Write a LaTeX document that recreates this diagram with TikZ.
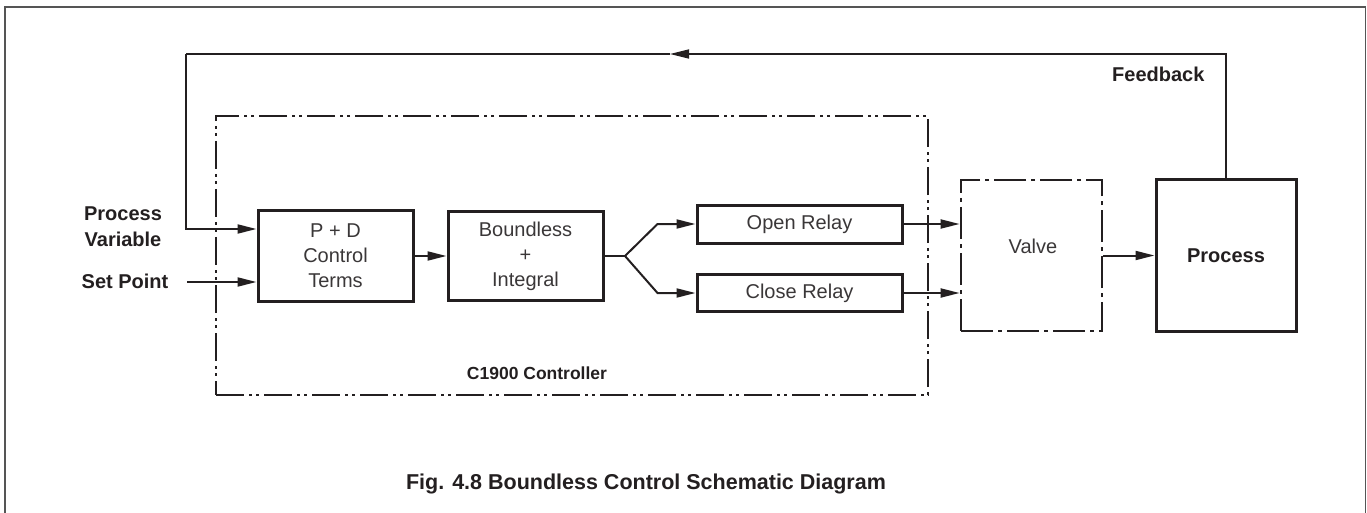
\documentclass[tikz,border=0pt]{standalone}
\usepackage{fontspec}
\setmainfont{Liberation Sans}
\usetikzlibrary{arrows.meta}
\definecolor{ink}{HTML}{231F20}
\definecolor{lightink}{HTML}{3A3738}
\definecolor{framegray}{HTML}{555555}
\begin{document}
\begin{tikzpicture}[x=1pt,y=-1pt,
  box/.style={draw=ink,line width=3pt,rectangle,inner sep=0pt,align=center,
    font=\fontsize{20}{25}\selectfont,text=lightink},
  conn/.style={draw=ink,line width=2pt},
  arr/.style={conn,-{Triangle[length=19pt,width=9pt]}},
  lbl/.style={font=\bfseries\fontsize{20}{26}\selectfont,text=ink,align=center},
  ctrlframe/.style={draw=ink,line width=2.8pt,rectangle,inner sep=0pt,
    dash pattern=on 28pt off 5pt on 3pt off 4pt on 3pt off 5pt},
  valveframe/.style={draw=ink,line width=2.8pt,rectangle,inner sep=0pt,
    dash pattern=on 32pt off 5pt on 4pt off 5pt}]
\useasboundingbox (0,0) rectangle (1367,513);
% outer frame
\draw[draw=framegray,line width=1.3pt] (5,520) -- (5,7) -- (1365.5,7) -- (1365.5,520);
% controller frame
\node[ctrlframe,minimum width=712pt,minimum height=279pt] (ctrl) at (572,255.5) {};
\node[font=\bfseries\fontsize{17.5}{21}\selectfont,text=ink] (ctrllbl) at (537,373) {C1900 Controller};
% boxes
\node[box,minimum width=155pt,minimum height=91pt] (pd) at (335.5,256) {P + D\\Control\\Terms};
\node[box,minimum width=155pt,minimum height=89pt] (bi) at (525.5,256) {Boundless\\+\\Integral};
\node[box,minimum width=205pt,minimum height=38pt] (open) at (799.5,224) {Open Relay};
\node[box,minimum width=205pt,minimum height=37pt] (close) at (799.5,293) {Close Relay};
\node[valveframe,minimum width=141pt,minimum height=151pt] (valve) at (1031.5,255.5) {};
\node[font=\fontsize{20}{25}\selectfont,text=lightink] (valvetxt) at (1033,246) {Valve};
\node[box,font=\bfseries\fontsize{20}{25}\selectfont,text=ink,minimum width=140pt,minimum height=151pt] (proc) at (1226,255.5) {Process};
% labels
\node[lbl] (pv) at (123,227) {Process\\Variable};
\node[lbl] (sp) at (125,281) {Set Point};
\node[lbl,anchor=east] (fbl) at (1208,74) {Feedback};
\node[font=\bfseries\fontsize{21.5}{26}\selectfont,text=ink] (cap) at (646,484) {Fig. 4.8 Boundless Control Schematic Diagram};
% coordinates
\coordinate (fk) at (625,256);
\coordinate (fbL) at (186,54);
\coordinate (fbM) at (670,54);
\coordinate (spS) at (187,282);
% connectors
\draw[arr] (pd.east) -- (bi.west);
\draw[conn] (bi.east) -- (fk);
\draw[arr] (fk) -- ([xshift=-38pt]open.west) -- (open.west);
\draw[arr] (fk) -- ([xshift=-38pt]close.west) -- (close.west);
\draw[arr] (open.east) -- (open.east -| valve.west);
\draw[arr] (close.east) -- (close.east -| valve.west);
\draw[arr] (valve.east) -- (proc.west);
\draw[arr,line width=1.7pt] (proc.north) |- (fbM);
\draw[conn,line width=1.7pt] (fbM) -- (fbL);
\draw[arr] (fbL) |- ([yshift=27pt]pd.west);
\draw[arr] (spS) -- (spS -| pd.west);
\end{tikzpicture}
\end{document}
